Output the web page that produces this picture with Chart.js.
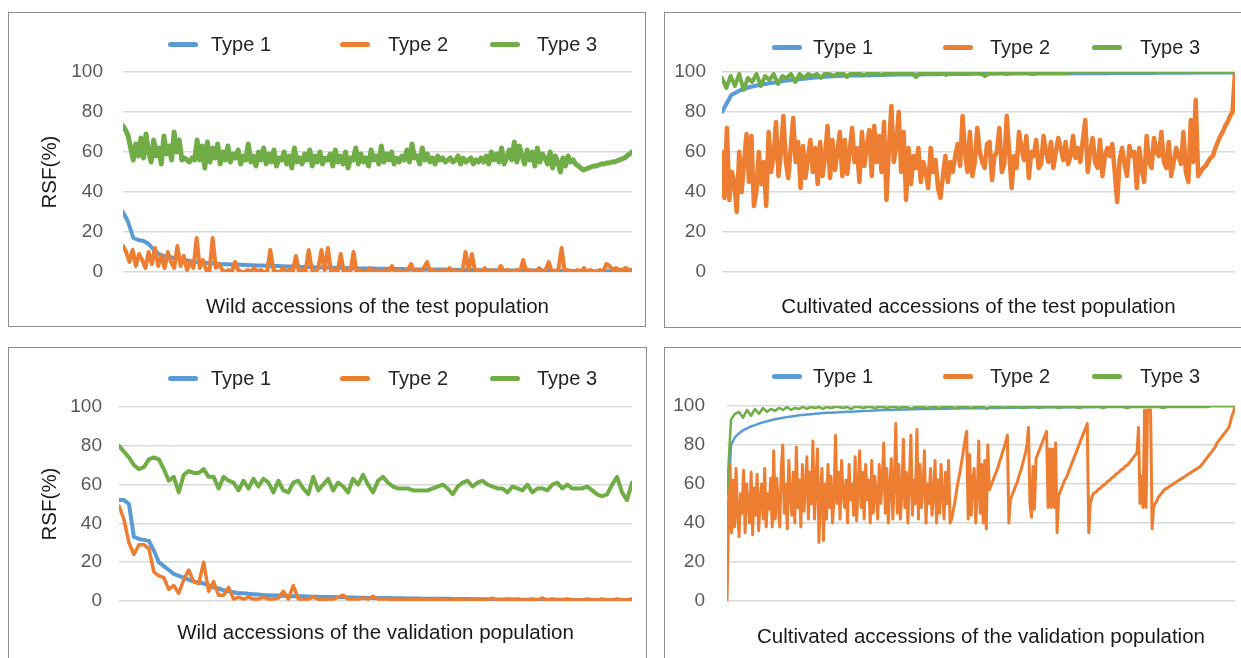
<!DOCTYPE html>
<html>
<head>
<meta charset="utf-8">
<script src="https://cdn.jsdelivr.net/npm/chart.js@4"></script>
<style>
  html, body { margin: 0; padding: 0; background: #fff; }
  body { width: 1241px; height: 658px; position: relative; overflow: hidden; font-family: "Liberation Sans", Arial, sans-serif; }
  .panel { position: absolute; box-sizing: border-box; border: 1.5px solid #8c8c8c; }
  .cv { position: absolute; }
  .lg-bar { position: absolute; width: 30px; height: 5px; border-radius: 3px; }
  .lg-txt { position: absolute; font-size: 20px; line-height: 22px; color: #262626; white-space: nowrap; }
</style>
</head>
<body>

<div class="panel" style="left:8px;top:12px;width:638px;height:315px"></div>
<div class="panel" style="left:664px;top:12px;width:590px;height:316px"></div>
<div class="panel" style="left:8px;top:347px;width:639px;height:330px"></div>
<div class="panel" style="left:664px;top:347px;width:590px;height:330px"></div>

<canvas id="c1" class="cv" width="636" height="313" style="left:9px;top:13px"></canvas>
<canvas id="c2" class="cv" width="576" height="314" style="left:665px;top:13px"></canvas>
<canvas id="c3" class="cv" width="636" height="310" style="left:9px;top:348px"></canvas>
<canvas id="c4" class="cv" width="576" height="310" style="left:665px;top:348px"></canvas>

<script>
// -- DATA --
const seriesLabels = ['Type 1', 'Type 2', 'Type 3'];
const yTickValues = [0, 20, 40, 60, 80, 100];

// Wild accessions, test population
const wildTestT1 = [30,25,17,16,15.5,14,11,9,8,7.5,7,6.5,6,5.5,5,4.8,4.6,4.4,4.2,4,3.9,3.8,3.7,3.6,3.5,3.4,3.3,3.2,3.1,3,3,2.9,2.8,2.7,2.6,2.5,2.5,2.4,2.3,2.2,2.2,2.1,2,2,1.9,1.9,1.8,1.8,1.7,1.7,1.6,1.6,1.5,1.5,1.5,1.4,1.4,1.3,1.3,1.3,1.2,1.2,1.2,1.1,1.1,1.1,1,1,1,1,0.9,0.9,0.9,0.9,0.8,0.8,0.8,0.8,0.7,0.7,0.7,0.7,0.6,0.6,0.6,0.6,0.5,0.5,0.5,0.5,0.5,0.4,0.4,0.4,0.4,0.4,0.3,0.3,0.3,0.3];
const wildTestT2 = [13,10,5,11,3,9,6,2,10,4,12,3,8,2,10,5,2,13,3,8,1,5,2,17,2,6,1,0,17,2,4,1,0,1,0,5,1,0,0,1,0,2,0,1,0,0,11,1,0,0,2,0,1,0,8,0,1,0,11,1,0,2,11,1,12,0,1,0,9,0,1,0,10,0,1,0,0,2,0,1,0,0,1,0,3,0,1,0,0,1,4,0,1,0,2,5,0,1,0,0,1,0,2,0,1,0,0,10,1,9,0,1,0,2,0,1,0,0,3,0,1,0,0,1,0,6,0,1,0,0,2,0,1,5,0,0,1,12,0,1,0,0,1,0,2,0,1,0,0,1,0,4,3,1,2,1,1,2,1,1];
const wildTestT3 = [73,71,68,62,56,
  64,58,67,57,69,60,55,66,58,62,54,68,59,63,56,70,60,66,56,57,56,55,57,56,66,56,
  63,52,65,55,62,57,64,54,60,56,63,55,59,57,61,54,58,56,64,55,
  58,53,60,56,62,54,59,55,61,53,57,56,60,54,58,52,62,55,57,54,59,56,61,53,58,55,60,54,57,56,
  59,53,61,55,58,54,60,52,57,56,62,54,59,55,57,53,61,56,58,54,63,55,59,56,60,54,57,55,58,56,
  61,55,64,57,58,54,62,56,59,55,57,54,58,56,57,55,56,57,55,56,58,54,57,55,56,57,54,56,55,57,
  55,58,54,60,56,59,55,62,54,57,61,56,65,55,63,58,54,61,56,60,53,62,55,59,57,54,60,52,58,55,
  50,57,53,58,55,56,54,53,52,51,
  51.5,52,52.5,53,53,53.5,54,54,54.5,54.5,55,55,55.5,56,56.5,57,58,59,60];

// Cultivated accessions, test population
const cultTestT1 = [80,88.5,91,92.5,93.5,94.3,95,95.8,96.3,96.8,97.3,97.6,97.9,98.1,98.2,98.3,98.4,98.5,98.6,98.7,98.8,98.8,98.9,98.9,99,99,99,99.1,99.1,99.1,99.2,99.2,99.2,99.2,99.3,99.3,99.3,99.3,99.4,99.4,99.4,99.4,99.5,99.5,99.5,99.5,99.5,99.6,99.6,99.6,99.6,99.7,99.7,99.7,99.8,99.8];
const cultTestT2 = [60,37,72,36,50,45,30,60,40,55,69,45,68,33,40,60,44,55,33,70,
  50,58,75,48,60,78,55,47,62,77,55,65,42,63,47,57,66,50,62,44,
  65,48,58,73,47,66,51,60,70,48,66,49,60,72,55,62,45,70,53,63,
  71,48,73,55,68,50,75,36,62,83,55,64,80,50,70,36,62,44,58,52,
  62,45,55,50,42,
  62,50,56,42,37,48,58,45,55,50,58,64,53,78,60,
  50,70,48,55,72,60,55,52,64,65,46,58,60,72,50,
  54,78,60,42,58,52,70,62,56,68,47,60,58,66,52,
  54,68,60,55,65,52,60,67,62,56,65,54,58,68,57,
  62,55,66,76,50,60,67,55,52,66,48,58,62,58,64,
  50,35,56,62,54,48,63,58,60,42,62,52,45,68,55,
  52,67,60,58,70,55,52,65,48,55,62,58,54,70,50,
  45,76,55,86,48,50,52,53,55,57,58,62,65,68,70,73,75,78,80,100];
const cultTestT3 = [97,92,98,93,99,91,97,95,99,93,98,96,99,94,98,97,99,95,99,97,99,98,99,97,99.5,99,98,99.5,99.5,97.5,99.5,99.5,99,98.5,99.5,99.5,99.5,98.5,99.5,99.5,99.5,99,99.5,99.5,99.5,97.5,99.5,99.5,99.5,99,99.5,99.5,98.5,99.5,99.5,99.5,99.5,99,99.5,99.5,99.5,98,99.5,99.5,99.5,99.5,99,99.5,99.5,99.5,99.5,99.5,99,99.5,99.5,99.5,99.5,99.5,99.5,99.5,99.5,100,100,100,100,100,100,100,100,100,100,100,100,100,100,100,100,100,100,100,100,100,100,100,100,100,100,100,100,100,100,100,100,100,100,100,100,100,100,100];

// Wild accessions, validation population
const wildValT1 = [52,52,50,33,32,31.5,31,26,20,18,16,14,13,12,11,10,9.5,9,8,7,6.5,5.5,5,4.5,4,4,3.7,3.5,3.3,3,3,2.9,2.8,2.7,2.6,2.5,2.5,2.4,2.3,2.2,2.2,2.1,2,2,1.9,1.9,1.8,1.8,1.7,1.7,1.6,1.6,1.5,1.5,1.5,1.4,1.4,1.4,1.3,1.3,1.3,1.2,1.2,1.2,1.1,1.1,1.1,1,1,1,1,0.9,0.9,0.9,0.9,0.8,0.8,0.8,0.8,0.8,0.7,0.7,0.7,0.7,0.7,0.6,0.6,0.6,0.6,0.6,0.6,0.5,0.5,0.5,0.5,0.5,0.5,0.5,0.4,0.4,0.4,0.4,0.4,0.4];
const wildValT2 = [49,42,30,24,29,29,27,15,13,12,6,8,4,11,16,10,9,20,5,10,3,3,7,1,2,1,2,1,1,2,1,1,1.5,5,1,8,1,1,1,2,1,0.5,1,1,2,3,1,1,1,1.5,1,2.5,1,1,1,0.5,1,0.5,0.5,1,0.5,1,0.5,0.5,1,0.5,0.5,0.5,1,0.5,0.5,0.5,1,0.5,0.5,1.5,0.5,0.5,1,0.5,1,0.5,0.5,1,0.5,1.5,0.5,1,0.5,0.5,1,0.5,0.5,0.5,1,0.5,0.5,1,0.5,0.5,1,0.5,0.5,1];
const wildValT3 = [80,77,74,70,68,69,73,74,73,68,62,64,56,65,67,66,66,68,64,64,58,64,62,61,57,62,58,63,59,63,61,56,62,57,56,61,62,58,55,64,57,60,63,57,61,59,56,63,60,65,60,56,62,64,61,59,58,58,58,57,57,57,57,58,59,60,58,55,59,61,62,59,61,62,60,59,58,58,56,59,58,57,60,56,58,58,57,60,61,58,60,58,58,58,59,57,55,54,55,60,64,56,52,61];

// Cultivated accessions, validation population
const cultValT1 = [36,80,84,86,87.5,88.5,89.5,90.2,91,91.6,92.2,92.7,93.2,93.6,94,94.3,94.6,94.9,95.2,95.4,95.6,95.8,96,96.2,96.4,96.5,96.6,96.7,96.8,96.9,97,97.1,97.2,97.3,97.4,97.5,97.6,97.7,97.8,97.9,98,
  98,98.1,98.1,98.2,98.2,98.3,98.3,98.4,98.4,98.5,98.5,98.5,98.6,98.6,98.6,98.7,98.7,98.7,98.8,98.8,
  98.8,98.9,98.9,98.9,99,99,99,99,99.1,99.1,99.1,99.1,99.2,99.2,99.2,99.2,99.3,99.3,99.3,99.3,
  99.3,99.4,99.4,99.4,99.4,99.4,99.5,99.5,99.5,99.5,99.5,99.5,99.6,99.6,99.6,99.6,99.6,99.6,99.7,99.7,
  99.7,99.7,99.7,99.7,99.7,99.8,99.8,99.8,99.8,99.8,99.8,99.8,99.9,99.9,99.9,99.9,99.9,99.9,99.9,99.9,100,100,100,100,100,100,100];
const cultValT2 = [
  0,40,70,35,62,38,68,45,33,55, 45,67,35,60,50,40,66,34,58,44, 65,36,52,60,42,68,38,55,47,63,
  38,77,42,63,50,38,68,80,45,60, 37,72,55,44,66,40,79,48,62,38, 70,46,58,74,42,66,50,82,42,60,
  78,30,55,68,31,60,42,70,48,64, 40,52,85,50,66,42,72,55,48,62, 40,70,52,60,44,74,41,58,77,48,
  66,42,70,52,62,40,72,45,64,55, 42,70,50,62,81,45,68,40,58,73, 42,60,91,45,70,42,55,83,48,66,
  40,62,85,44,62,50,88,42,70,48, 58,77,40,60,50,68,44,55,72,40, 62,45,70,55,42,66,50,72,40,42,
  46,50,55,60,64,68,73,78,83,87, 42,75,44,62,68,40,55,82,45,70,
  40,72,37,80,57,
  59,61,63,65,67,69,72,74,77,79,82,85,
  40,
  52,54,56,58,60,62,65,67,70,73,76,80,
  89,50,43,69,47,
  73,75,77,79,81,83,85,87,
  48,78,48,78,48,81,35,
  54,56,58,60,62,63,65,67,69,71,73,75,77,79,81,83,85,87,89,91,
  35,50,53,
  55,55.5,56,57,57.5,58,59,59.5,60,61,61.5,62,63,63.5,64,65,65.5,66,67,67.5,68,69,69.5,70,71,72,73,74,75,76,
  89,50,64,48,98,48,98,98,98,37,
  48,50,51,53,54,55,56,57,57.5,58,58.5,59,59.5,60,60.5,61,61.5,62,62.5,63,63.5,64,64.5,65,65.5,66,66.5,67,67.5,68,
  68.5,69,70,71,72,73,74,75,76,77,78,79,81,82,83,84,85,86,87,88,89,92,95,97,100];
const cultValT3 = [55,93,96,97,94,98,95,98.5,96,99,97,98.5,97.5,99,98,99.5,98,99,98.5,99.5,98.5,
  99.5,99,99.5,98.5,99.5,99,99.5,99.5,99,99.5,98.5,99.5,99.5,99,99.5,99.5,99,99.5,99.5,99,
  99.5,99.5,99,99.5,99.5,98.5,99.5,99.5,99.5,99,99.5,99.5,99,99.5,99.5,99.5,99,99.5,99.5,99.5,
  99,99.5,99.5,99.5,98.5,99.5,99.5,99.5,99,99.5,99.5,99.5,99.5,99,99.5,99.5,99.5,99,99.5,99.5,
  99.5,99.5,99,99.5,99.5,99.5,99.5,99,99.5,99.5,99.5,99.5,99.5,99,99.5,99.5,99.5,99.5,99.5,99,
  99.5,99.5,99.5,99.5,99.5,99.5,99.5,99.5,99,99.5,99.5,99.5,99.5,99.5,99.5,99.5,99.5,99.5,99.5,99.5,100,100,100,100,100,100,100];

const seriesColors = ['#5b9bd5', '#ed7d31', '#70ad47'];

// -- CHART SETUP --
Chart.defaults.font.family = '"Liberation Sans", Arial, sans-serif';
Chart.defaults.color = '#595959';

const panels = [
  { id: 'c1', series: [wildTestT1, wildTestT2, wildTestT3], title: 'Wild accessions of the test population',
    yTitle: true, yWidth: 114, padTop: 59, padRight: 13, xHeight: 54, titlePad: 6, tickPad: 20, widths: [4, 4, 5],
    legend: { bars: [168, 340, 490], texts: [211, 388, 537], y: 44 } },
  { id: 'c2', series: [cultTestT1, cultTestT2, cultTestT3], title: 'Cultivated accessions of the test population',
    yTitle: false, yWidth: 57, padTop: 59, padRight: 6, xHeight: 55, titlePad: 7, tickPad: 16, widths: [4, 4.5, 4],
    legend: { bars: [772, 943, 1092], texts: [813, 990, 1140], y: 47 } },
  { id: 'c3', series: [wildValT1, wildValT2, wildValT3], title: 'Wild accessions of the validation population',
    yTitle: true, yWidth: 110, padTop: 59, padRight: 13, xHeight: 57, titlePad: 12, tickPad: 17, widths: [4, 3.5, 4],
    legend: { bars: [168, 340, 490], texts: [211, 388, 537], y: 378 } },
  { id: 'c4', series: [cultValT1, cultValT2, cultValT3], title: 'Cultivated accessions of the validation population',
    yTitle: false, yWidth: 62, padTop: 58, padRight: 6, xHeight: 57, titlePad: 8, tickPad: 22, widths: [2.5, 3, 2.5],
    legend: { bars: [772, 943, 1092], texts: [813, 990, 1140], y: 376 } }
];

function toXY(arr) {
  // spread each series over the same x range by index
  return arr.map((v, i) => ({ x: i / (arr.length - 1), y: v }));
}

function makeChart(p) {
  const datasets = p.series.map((arr, k) => ({
    label: seriesLabels[k],
    data: toXY(arr),
    borderColor: seriesColors[k],
    borderWidth: p.widths[k],
    pointRadius: 0,
    tension: 0,
    borderJoinStyle: 'round',
    borderCapStyle: 'round',
    order: 3 - k
  }));

  return new Chart(document.getElementById(p.id), {
    type: 'line',
    data: { datasets },
    options: {
      responsive: false,
      animation: false,
      layout: { padding: { top: p.padTop, right: p.padRight, left: 0, bottom: 0 } },
      plugins: { legend: { display: false }, tooltip: { enabled: false } },
      scales: {
        x: {
          type: 'linear', min: 0, max: 1,
          ticks: { display: false },
          grid: { display: false },
          border: { display: false },
          title: { display: true, text: p.title, color: '#1a1a1a', font: { size: 20.5 }, padding: { top: 0, bottom: p.titlePad } },
          afterFit: s => { s.height = p.xHeight; }
        },
        y: {
          min: 0, max: 100,
          afterBuildTicks: s => { s.ticks = yTickValues.map(v => ({ value: v })); },
          ticks: { padding: p.tickPad, font: { size: 19 }, color: '#595959' },
          grid: { color: '#d9d9d9', lineWidth: 1.5, drawTicks: false },
          border: { display: false },
          title: { display: p.yTitle, text: 'RSF(%)', color: '#1a1a1a', font: { size: 20.5 }, padding: { top: 29, bottom: 0 } },
          afterFit: s => { s.width = p.yWidth; }
        }
      }
    }
  });
}

function makeLegend(p, chart) {
  chart.data.datasets.forEach((ds, k) => {
    const bar = document.createElement('div');
    bar.className = 'lg-bar';
    bar.style.left = p.legend.bars[k] + 'px';
    bar.style.top = (p.legend.y - 2.5) + 'px';
    bar.style.background = ds.borderColor;
    document.body.appendChild(bar);

    const txt = document.createElement('div');
    txt.className = 'lg-txt';
    txt.style.left = p.legend.texts[k] + 'px';
    txt.style.top = (p.legend.y - 11) + 'px';
    txt.textContent = ds.label;
    document.body.appendChild(txt);
  });
}

panels.forEach(p => {
  const chart = makeChart(p);
  makeLegend(p, chart);
});
</script>
</body>
</html>
